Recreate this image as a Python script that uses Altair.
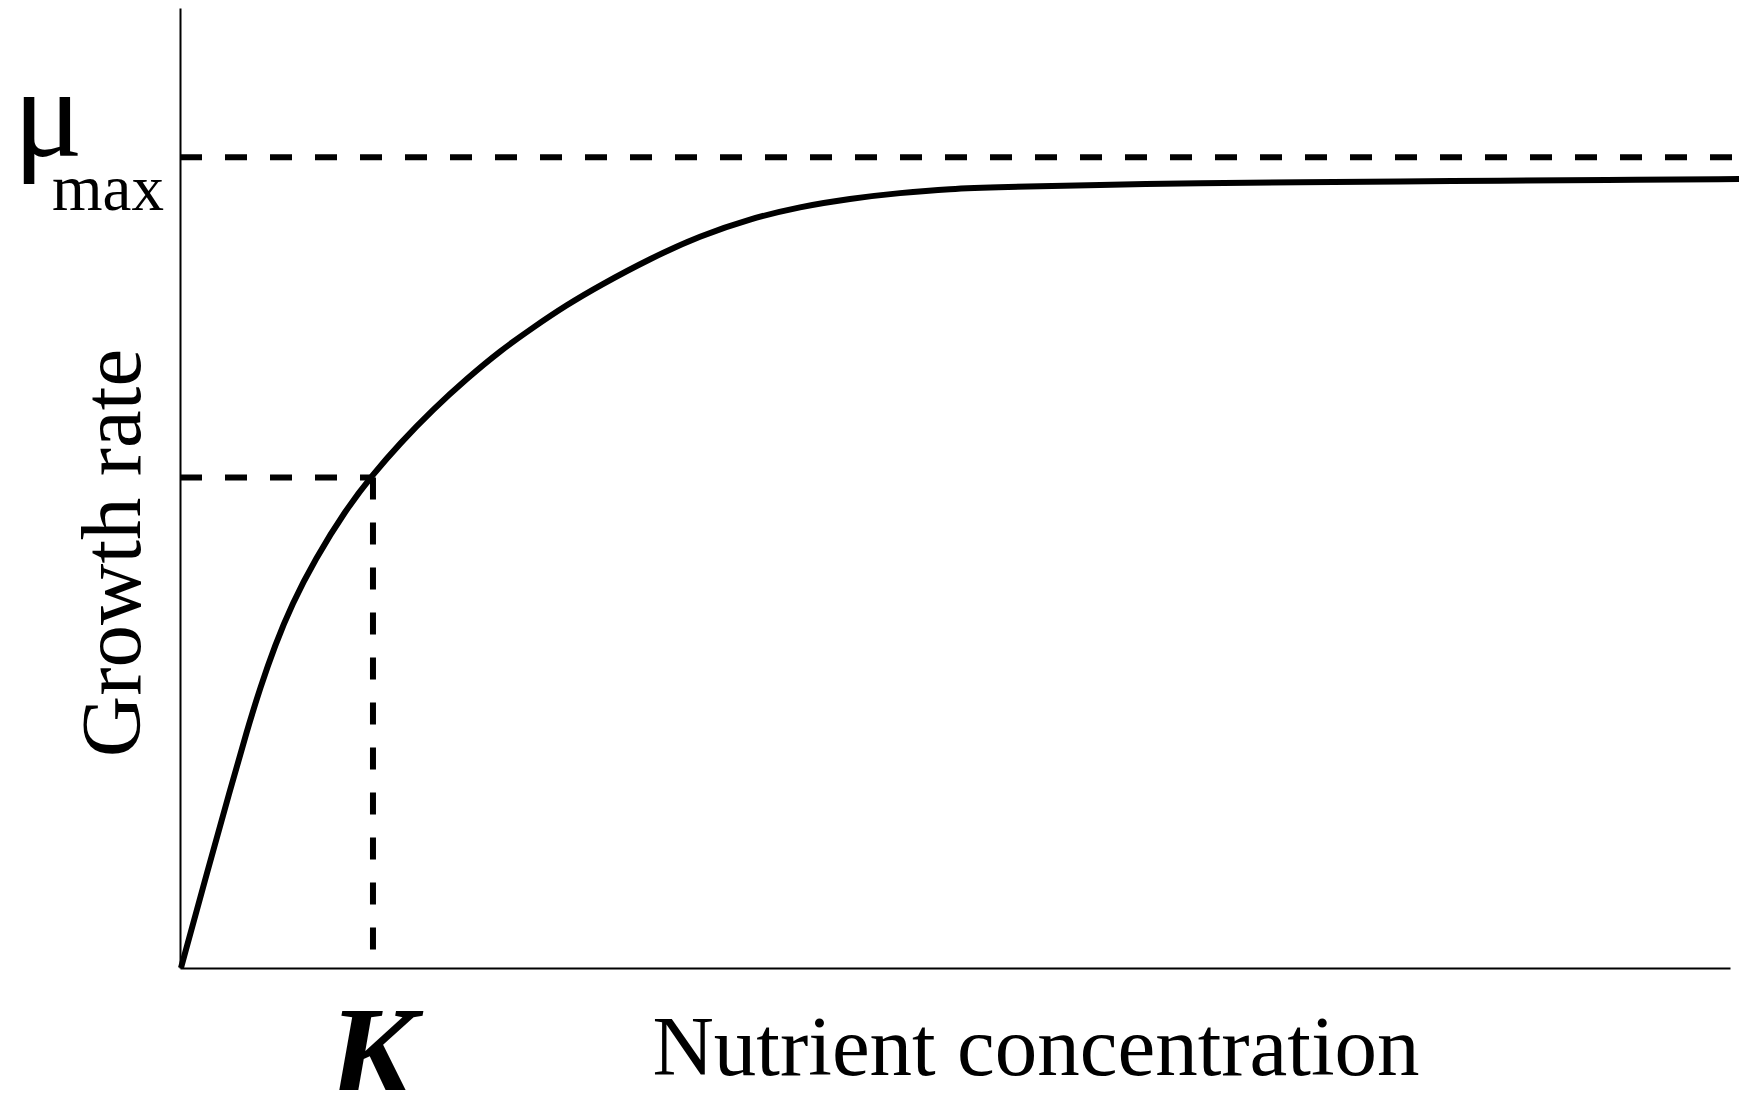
import altair as alt
import pandas as pd

# Curve (nutrient concentration in units of K, growth rate in units of mu_max)
conc = [0.005, 0.1445, 0.258, 0.346, 0.413, 0.490, 0.578, 0.697, 0.852, 0.996, 1.135, 1.306,
        1.481, 1.652, 1.822, 1.997, 2.168, 2.426, 2.684, 2.942, 3.200, 3.458, 3.716, 3.974,
        4.232, 4.748, 5.265, 5.781, 6.297, 6.813, 7.329, 8.062]
rate = [0.0, 0.122, 0.219, 0.293, 0.345, 0.398, 0.449, 0.504, 0.564, 0.609, 0.647, 0.689,
        0.727, 0.761, 0.790, 0.818, 0.842, 0.875, 0.903, 0.924, 0.939, 0.949, 0.956, 0.961,
        0.963, 0.966, 0.968, 0.969, 0.970, 0.971, 0.972, 0.973]

mu_max = [1.0]
k_value = [0.996]
half_rate = [0.605]
x_end = [8.062]

x_domain = [0, 8]
y_domain = [0, 1.184]

y_title = ["Growth rate"]
x_title = ["Nutrient concentration"]
k_label = ["K"]
mu_label = ["μ"]
sub_label = ["max"]

FONT = "Liberation Serif"
DASH = [22, 23]
LW = 6

xs = alt.Scale(domain=x_domain, nice=False, zero=False)
ys = alt.Scale(domain=y_domain, nice=False, zero=False)
ax = alt.Axis(labels=False, ticks=False, title=None, grid=False,
              domainColor="black", domainWidth=2)

curve = alt.Chart(pd.DataFrame({"conc": conc, "rate": rate})).mark_line(
    color="black", strokeWidth=LW, interpolate="basis"
).encode(
    x=alt.X("conc:Q", scale=xs, axis=ax),
    y=alt.Y("rate:Q", scale=ys, axis=ax),
    order="conc:Q",
)

mu_line = alt.Chart(pd.DataFrame({"x0": [0], "x1": x_end, "y": mu_max})).mark_rule(
    color="black", strokeWidth=LW, strokeDash=DASH
).encode(
    x=alt.X("x0:Q", scale=xs, axis=ax), x2="x1:Q",
    y=alt.Y("y:Q", scale=ys, axis=ax),
)

half_h = alt.Chart(pd.DataFrame({"x0": [0], "x1": k_value, "y": half_rate})).mark_rule(
    color="black", strokeWidth=LW, strokeDash=DASH
).encode(
    x=alt.X("x0:Q", scale=xs, axis=ax), x2="x1:Q",
    y=alt.Y("y:Q", scale=ys, axis=ax),
)

half_v = alt.Chart(pd.DataFrame({"x": k_value, "y0": half_rate, "y1": [0]})).mark_rule(
    color="black", strokeWidth=LW, strokeDash=DASH
).encode(
    x=alt.X("x:Q", scale=xs, axis=ax),
    y=alt.Y("y0:Q", scale=ys, axis=ax), y2="y1:Q",
)


def label(text, **kw):
    pos = {k: kw.pop(k) for k in ("px", "py")}
    return alt.Chart(pd.DataFrame({"t": text})).mark_text(
        font=FONT, color="black", **kw
    ).encode(
        x=alt.value(pos["px"]), y=alt.value(pos["py"]), text="t:N"
    )


t_y = label(y_title, px=-40, py=545, fontSize=85, angle=270,
            align="center", baseline="alphabetic")
t_x = label(x_title, px=856, py=1067, fontSize=85,
            align="center", baseline="alphabetic")
t_k = label(k_label, px=192, py=1089, fontSize=132, fontStyle="italic",
            fontWeight="bold", align="center", baseline="alphabetic")
t_mu = label(mu_label, px=-132, py=148, fontSize=130,
             align="center", baseline="alphabetic")
t_sub = label(sub_label, px=-128, py=202, fontSize=65,
              align="left", baseline="alphabetic")

chart = alt.layer(curve, mu_line, half_h, half_v, t_y, t_x, t_k, t_mu, t_sub).properties(
    width=1550, height=960,
    padding={"left": 172, "top": 0, "right": 9, "bottom": 122},
    autosize=alt.AutoSizeParams(type="none"),
).configure_view(stroke=None)

chart.save("out.html", embed_options={"renderer": "svg", "actions": False})
